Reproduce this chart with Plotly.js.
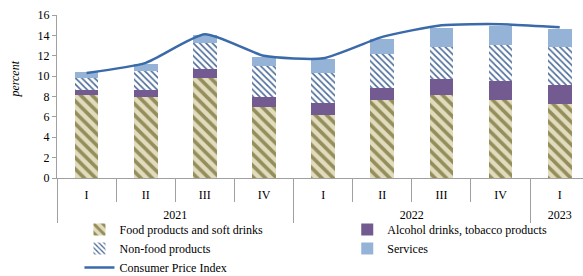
<!DOCTYPE html>
<html>
<head>
<meta charset="utf-8">
<script src="https://cdn.plot.ly/plotly-3.0.1.min.js"></script>
<style>html,body{margin:0;padding:0;background:#fff;}#chart{width:583px;height:276px;}</style>
</head>
<body>
<div id="chart"></div>
<script>
// ---- data ----
const years    = ["2021","2021","2021","2021","2022","2022","2022","2022","2023"];
const quarters = ["I","II","III","IV","I","II","III","IV","I"];
const food     = [8.15, 7.92, 9.81, 7.00, 6.18, 7.62, 8.17, 7.65, 7.26];
const alcohol  = [0.52, 0.72, 0.89, 0.92, 1.18, 1.21, 1.55, 1.90, 1.90];
const nonfood  = [1.11, 1.86, 2.52, 3.07, 2.97, 3.31, 3.11, 3.47, 3.73];
const services = [0.59, 0.69, 0.81, 0.91, 1.35, 1.50, 1.92, 1.90, 1.71];
const cpi      = [10.3, 11.3, 14.1, 12.0, 11.75, 13.85, 15.0, 15.1, 14.8];
const seriesNames = ["Food products and soft drinks","Alcohol drinks, tobacco products","Non-food products","Services","Consumer Price Index"];
const yTicks = [0,2,4,6,8,10,12,14,16];

const FONT = "'Liberation Serif', 'Times New Roman', serif";
// labels drawn at 12px inside a larger tick font so the rows sit lower, as in the reference
const lbl = s => "<span style='font-size:12px'>" + s + "</span>";
const x = [years.map(lbl), quarters.map(lbl)];

const traces = [
  {type:"bar", name:seriesNames[0], x:x, y:food, legend:"legend",
   marker:{color:"#dcd7b4", line:{width:0}, pattern:{shape:"\\", fgcolor:"#958d5b", bgcolor:"#e0dcbd", size:8, solidity:0.45}}},
  {type:"bar", name:seriesNames[1], x:x, y:alcohol, legend:"legend2", marker:{color:"#735a90", line:{width:0}}},
  {type:"bar", name:seriesNames[2], x:x, y:nonfood, legend:"legend",
   marker:{color:"#ffffff", line:{width:0}, pattern:{shape:"\\", fgcolor:"#4a6a97", bgcolor:"#ffffff", size:4.5, solidity:0.35}}},
  {type:"bar", name:seriesNames[3], x:x, y:services, legend:"legend2", marker:{color:"#95b3d7", line:{width:0}}},
  {type:"scatter", mode:"lines", name:seriesNames[4], x:x, y:cpi, legend:"legend",
   line:{color:"#3a6aa9", width:2.5, shape:"spline", smoothing:0.55}}
];

const legendCommon = {orientation:"v", yanchor:"top", xanchor:"left", traceorder:"normal",
  font:{family:FONT, size:12, color:"#000"}, bgcolor:"rgba(0,0,0,0)", borderwidth:0};

const layout = {
  width:583, height:276,
  margin:{l:56.5, r:0, t:15, b:98, autoexpand:false},
  paper_bgcolor:"#fff", plot_bgcolor:"#fff",
  font:{family:FONT, size:12, color:"#000"},
  barmode:"stack", bargap:0.6,
  showlegend:true,
  legend:Object.assign({}, legendCommon, {x:0.0427, y:-0.227}),
  legend2:Object.assign({}, legendCommon, {x:0.5518, y:-0.227}),
  xaxis:{type:"multicategory", range:[-0.5, 8.394], showline:true, linecolor:"#a0a0a0", linewidth:1,
         ticks:"outside", tickson:"boundaries", ticklen:23, tickcolor:"#a0a0a0",
         ticklabelstandoff:-4,
         showdividers:true, dividercolor:"#a0a0a0", dividerwidth:1,
         showgrid:false, zeroline:false, tickfont:{family:FONT, size:20, color:"#000"}},
  yaxis:{range:[0,16], tickvals:yTicks, showline:true, linecolor:"#a0a0a0", linewidth:1,
         ticks:"outside", ticklen:4, tickcolor:"#a0a0a0", showgrid:false, zeroline:false,
         tickfont:{family:FONT, size:12, color:"#000"}},
  annotations:[{text:"<i>percent</i>", xref:"paper", yref:"paper", x:-0.079, y:0.607,
                xanchor:"center", yanchor:"middle", textangle:-90, showarrow:false,
                font:{family:FONT, size:12, color:"#000"}}]
};

Plotly.newPlot("chart", traces, layout, {displayModeBar:false, staticPlot:true});
</script>
</body>
</html>
